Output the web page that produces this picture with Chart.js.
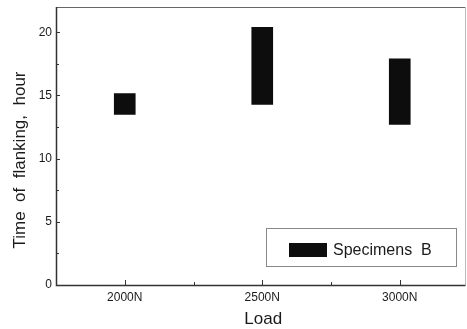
<!DOCTYPE html>
<html>
<head>
<meta charset="utf-8">
<script src="https://cdn.jsdelivr.net/npm/chart.js@4/dist/chart.umd.min.js"></script>
<style>
html,body{margin:0;padding:0;background:#fff;overflow:hidden;}
#wrap{width:467px;height:329px;position:relative;overflow:hidden;}
</style>
</head>
<body>
<div id="wrap"><canvas id="c" width="470" height="329"></canvas></div>
<script>
const categories = ['2000N', '2500N', '3000N'];
const lowValues = [13.5, 14.3, 12.7];
const highValues = [15.15, 20.4, 17.9];
const yTicks = [0, 5, 10, 15, 20];
const seriesLabel = 'Specimens  B';
const xTitle = 'Load';
const yTitle = 'Time  of  flanking,  hour';

const FONT = "'Liberation Sans', Arial, sans-serif";
const INK = '#1a1a1a';

const decor = {
  id: 'decor',
  afterDatasetsDraw(chart) {
    const ctx = chart.ctx;
    const a = chart.chartArea;
    const xs = chart.scales.x, ys = chart.scales.y;
    const frameRight = 465.5;
    ctx.save();
    // frame
    ctx.strokeStyle = '#666';
    ctx.lineWidth = 1;
    ctx.beginPath();
    ctx.moveTo(a.left, a.top + 0.5); ctx.lineTo(frameRight, a.top + 0.5);
    ctx.stroke();
    ctx.strokeStyle = '#bbb';
    ctx.beginPath();
    ctx.moveTo(frameRight, a.top); ctx.lineTo(frameRight, a.bottom);
    ctx.stroke();
    ctx.strokeStyle = '#333';
    ctx.lineWidth = 1.5;
    ctx.beginPath();
    ctx.moveTo(a.left + 0.5, a.top); ctx.lineTo(a.left + 0.5, a.bottom + 0.5);
    ctx.lineTo(frameRight, a.bottom + 0.5);
    ctx.stroke();
    // y ticks (inward)
    ctx.lineWidth = 1;
    ctx.strokeStyle = '#333';
    ctx.beginPath();
    for (let v = 0; v <= ys.max; v += 2.5) {
      const y = Math.round(ys.getPixelForValue(v)) + 0.5;
      const len = (v % 5 === 0) ? 4 : 3;
      ctx.moveTo(a.left, y); ctx.lineTo(a.left + len, y);
    }
    // x ticks (inward)
    for (let i = 0; i < categories.length; i++) {
      const x = Math.round(xs.getPixelForValue(i)) + 0.5;
      ctx.moveTo(x, a.bottom); ctx.lineTo(x, a.bottom - 5);
      if (i < categories.length - 1) {
        const xm = Math.round((xs.getPixelForValue(i) + xs.getPixelForValue(i + 1)) / 2) + 0.5;
        ctx.moveTo(xm, a.bottom); ctx.lineTo(xm, a.bottom - 3);
      }
    }
    ctx.stroke();
    // legend box
    ctx.strokeStyle = '#888';
    ctx.lineWidth = 1;
    ctx.strokeRect(266.5, 228.5, 190, 38);
    ctx.fillStyle = chart.data.datasets[0].backgroundColor;
    ctx.fillRect(289, 243, 38, 14);
    ctx.fillStyle = INK;
    ctx.font = '16px ' + FONT;
    ctx.textAlign = 'left';
    ctx.textBaseline = 'alphabetic';
    ctx.fillText(chart.data.datasets[0].label, 333, 255);
    // axis titles
    ctx.textAlign = 'center';
    ctx.font = '17px ' + FONT;
    ctx.fillText(xTitle, (a.left + a.right) / 2 + 1, 324);
    ctx.translate(25, 160);
    ctx.rotate(-Math.PI / 2);
    ctx.font = '17px ' + FONT;
    ctx.fillText(yTitle, 0, 0);
    ctx.restore();
  }
};

new Chart(document.getElementById('c'), {
  type: 'bar',
  data: {
    labels: categories,
    datasets: [{
      label: seriesLabel,
      data: categories.map((c, i) => [lowValues[i], highValues[i]]),
      backgroundColor: '#0d0d0d',
      borderColor: '#0d0d0d',
      borderWidth: 0,
      borderSkipped: false,
      barThickness: 21,
      grouped: false
    }]
  },
  options: {
    responsive: false,
    animation: false,
    devicePixelRatio: 1,
    layout: { padding: { top: 7, right: 1.5, left: 0, bottom: 0 } },
    plugins: { legend: { display: false }, tooltip: { enabled: false } },
    scales: {
      x: {
        offset: true,
        grid: { display: false, drawTicks: false },
        border: { display: false },
        ticks: { color: INK, font: { family: FONT, size: 12 }, padding: 5, maxRotation: 0 },
        afterFit(s) { s.height = 44; s.paddingLeft = 0; s.paddingRight = 0; }
      },
      y: {
        min: 0, max: 22,
        grid: { display: false, drawTicks: false },
        border: { display: false },
        afterBuildTicks(s) { s.ticks = yTicks.map(v => ({ value: v })); },
        ticks: { color: INK, font: { family: FONT, size: 12 }, padding: 4 },
        afterFit(s) { s.width = 56; s.paddingTop = 0; s.paddingBottom = 0; }
      }
    }
  },
  plugins: [decor]
});
</script>
</body>
</html>
